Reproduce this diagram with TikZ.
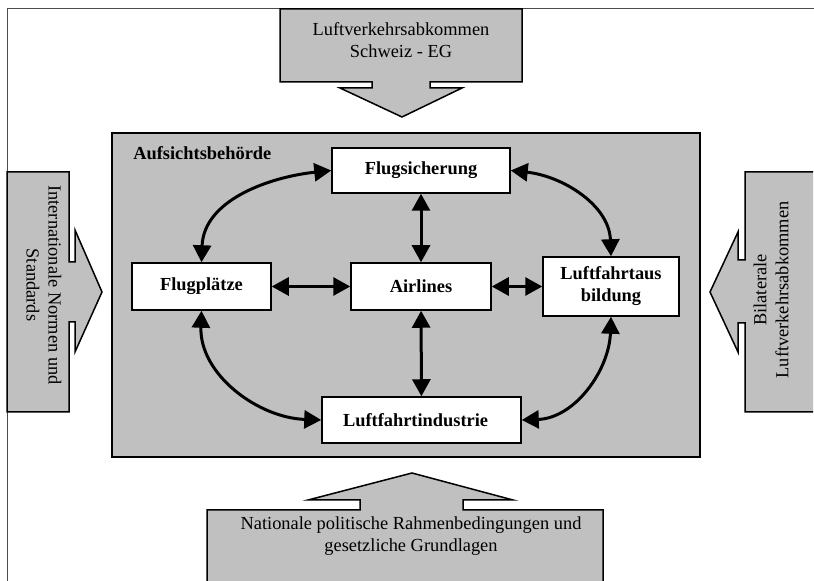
\documentclass[tikz,border=0pt]{standalone}
\usepackage{fontspec}
\setmainfont{Liberation Serif}
\usepackage{tikz}
\usetikzlibrary{arrows.meta}
\definecolor{boxgray}{RGB}{192,192,192}

\begin{document}
\begin{tikzpicture}[x=1pt, y=1pt, >={Triangle[length=17pt, width=18pt]},
    unit/.style={draw, fill=white, line width=1.5pt, inner sep=0pt, align=center, font=\bfseries},
    link/.style={<->, line width=3pt},
    block/.style={draw, fill=boxgray, line width=1.5pt, line join=miter}]
    \useasboundingbox (0,0) rectangle (814,581);
    \fontsize{18.4}{22}\selectfont

    % Frame
    \draw[line width=1pt, black!70] (7,0) -- (7,572) -- (814,572);

    % Outer influences
    \draw[block] (280,572) -- (522,572) -- (522,499) -- (430,499) -- (430,493) -- (462,493) -- (402,464)
        -- (340,493) -- (372,493) -- (372,499) -- (280,499) -- cycle;
    \node[align=center] (abk) at (401,541) {Luftverkehrsabkommen\\Schweiz - EG};

    \draw[block] (7,409) -- (69,409) -- (69,319) -- (75,319) -- (75,351) -- (102,289) -- (75,229)
        -- (75,259) -- (69,259) -- (69,169) -- (7,169) -- cycle;
    \node[align=center, rotate=-90] (norm) at (44,296) {Internationale Normen und\\Standards};

    \draw[block] (813,409) -- (745,409) -- (745,321) -- (738,321) -- (738,349) -- (710,289) -- (738,229)
        -- (738,258) -- (745,258) -- (745,169) -- (813,169);
    \node[align=center, rotate=90] (bilat) at (771,291) {Bilaterale\\Luftverkehrsabkommen};

    \draw[block] (207,-2) -- (207,71) -- (360,71) -- (360,81) -- (308,81) -- (412,108) -- (513,81)
        -- (463,81) -- (463,71) -- (603,71) -- (603,-2);
    \node[align=center] (nat) at (411,45) {Nationale politische Rahmenbedingungen und\\gesetzliche Grundlagen};

    % Authority
    \draw[fill=boxgray, line width=2pt] (112,124) rectangle (700,448);
    \node[anchor=west, font=\bfseries] (auf) at (127,428) {Aufsichtsbehörde};

    % Units
    \node[unit, minimum width=178pt, minimum height=45pt] (fs) at (421,410.5) {Flugsicherung};
    \node[unit, minimum width=139pt, minimum height=47pt] (fp) at (201.5,294.5) {Flugplätze};
    \node[unit, minimum width=140pt, minimum height=47pt] (air) at (421,294.5) {Airlines};
    \node[unit, minimum width=136pt, minimum height=59pt] (lfa) at (611,294.5) {Luftfahrtaus\\bildung};
    \node[unit, minimum width=199pt, minimum height=46pt, text width=185pt, align=left] (ind) at (421.5,161)
        {\hspace*{14pt}Luftfahrtindustrie};

    % Links
    \draw[link] (fs) -- (air);
    \draw[link] (air) -- (ind);
    \draw[link] (fp) -- (air);
    \draw[link] (air) -- (lfa);
    \draw[link] (fs.west) to[out=186, in=88] (fp.north);
    \draw[link] (fs.east) to[out=-6, in=92] (lfa.north);
    \draw[link] (fp.south) to[out=-92, in=178] (ind.west);
    \draw[link] (lfa.south) to[out=-92, in=2] (ind.east);
\end{tikzpicture}
\end{document}
